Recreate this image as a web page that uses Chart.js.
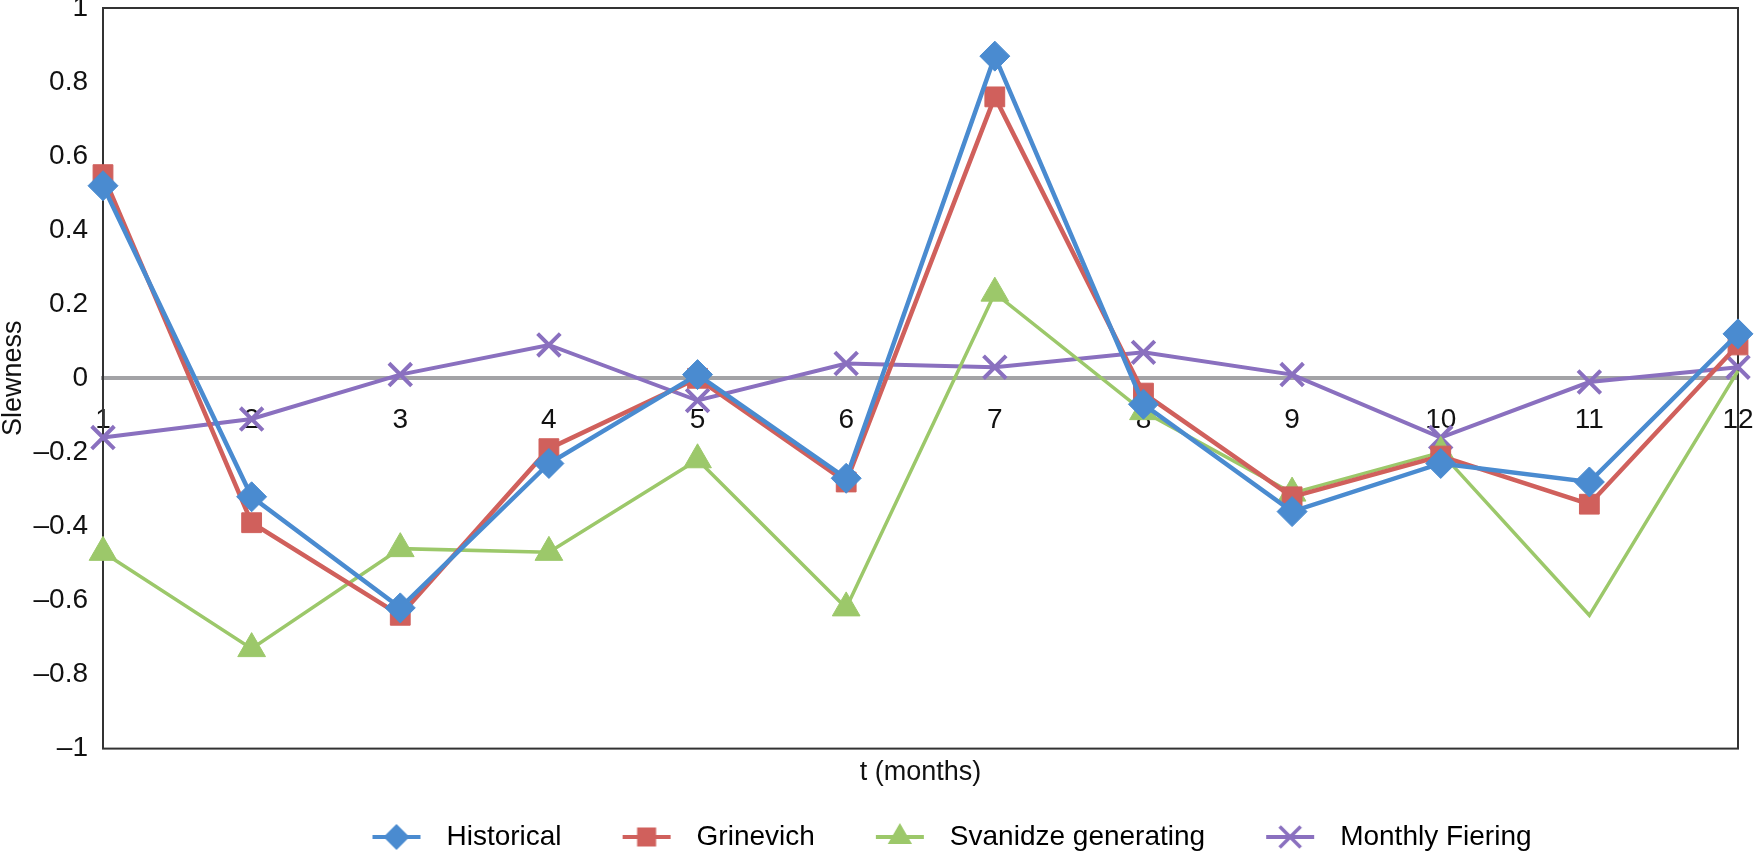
<!DOCTYPE html>
<html>
<head>
<meta charset="utf-8">
<script src="https://cdn.jsdelivr.net/npm/chart.js@4/dist/chart.umd.min.js"></script>
<style>
  body { margin: 0; background: #fff; }
  #wrap { width: 1754px; height: 857px; }
</style>
</head>
<body>
<div id="wrap"><canvas id="chart-area"></canvas></div>
<script>
// months on the x axis
var months = ['1', '2', '3', '4', '5', '6', '7', '8', '9', '10', '11', '12'];

// skewness per month
var historical = [0.52, -0.32, -0.62, -0.23, 0.01, -0.27, 0.87, -0.07, -0.36, -0.23, -0.28, 0.12];
var grinevich  = [0.55, -0.39, -0.64, -0.19, 0.00, -0.28, 0.76, -0.04, -0.32, -0.21, -0.34, 0.09];
var svanidze   = [-0.47, -0.73, -0.46, -0.47, -0.22, -0.62, 0.23, -0.09, -0.31, -0.20, -0.64, 0.02];
var fiering    = [-0.16, -0.11, 0.01, 0.09, -0.06, 0.04, 0.03, 0.07, 0.01, -0.16, -0.01, 0.03];

var seriesNames = ['Historical', 'Grinevich', 'Svanidze generating', 'Monthly Fiering'];

var colors = {
    blue: '#4a8bd0',
    red: '#d0605c',
    green: '#9cc86a',
    purple: '#8a70bf',
    zero: '#a3a3a6'
};

var FONT = '"Liberation Sans", Arial, Helvetica, sans-serif';

// legend icon: short line with the marker in the middle (blank space on the left acts as item gap)
function legendIcon(style, color) {
    var c = document.createElement('canvas');
    c.width = 87;
    c.height = 30;
    var ctx = c.getContext('2d');
    var x = 51, y = 15, r;
    ctx.strokeStyle = color;
    ctx.fillStyle = color;
    ctx.lineWidth = 4;
    ctx.beginPath();
    ctx.moveTo(27, y);
    ctx.lineTo(75, y);
    ctx.stroke();
    ctx.beginPath();
    if (style === 'rectRot') {
        r = 13;
        ctx.moveTo(x - r, y); ctx.lineTo(x, y - r); ctx.lineTo(x + r, y); ctx.lineTo(x, y + r);
        ctx.closePath(); ctx.fill();
    } else if (style === 'rect') {
        r = 9.5;
        ctx.fillRect(x - r, y - r, 2 * r, 2 * r);
    } else if (style === 'triangle') {
        r = 14;
        ctx.moveTo(x, y - r); ctx.lineTo(x + r * 0.866, y + r * 0.5); ctx.lineTo(x - r * 0.866, y + r * 0.5);
        ctx.closePath(); ctx.fill();
    } else {
        r = 10.5;
        ctx.lineWidth = 3.5;
        ctx.moveTo(x - r, y - r); ctx.lineTo(x + r, y + r);
        ctx.moveTo(x + r, y - r); ctx.lineTo(x - r, y + r);
        ctx.stroke();
    }
    return c;
}

var plotBox = {
    id: 'plotBox',
    afterLayout: function(chart) {
        // legend in the original sits a bit right of the plot centre
        if (chart.legend) {
            chart.legend.left += 18;
            chart.legend.right += 18;
        }
    },
    beforeDatasetsDraw: function(chart) {
        var a = chart.chartArea, ctx = chart.ctx;
        ctx.save();
        ctx.strokeStyle = '#333';
        ctx.lineWidth = 2;
        ctx.strokeRect(a.left, a.top, a.right - a.left, a.bottom - a.top);
        ctx.restore();
    }
};

var styles = ['rectRot', 'rect', 'triangle', 'crossRot'];
var colorList = [colors.blue, colors.red, colors.green, colors.purple];

var config = {
    type: 'line',
    data: {
        labels: months,
        datasets: [{
            label: seriesNames[0],
            data: historical,
            borderColor: colors.blue,
            backgroundColor: colors.blue,
            borderWidth: 4.5,
            pointStyle: 'rectRot',
            pointRadius: 15,
            pointBorderWidth: 1
        }, {
            label: seriesNames[1],
            data: grinevich,
            borderColor: colors.red,
            backgroundColor: colors.red,
            borderWidth: 4.5,
            pointStyle: 'rect',
            pointRadius: 14,
            pointBorderWidth: 1
        }, {
            label: seriesNames[2],
            data: svanidze,
            borderColor: colors.green,
            backgroundColor: colors.green,
            borderWidth: 3.5,
            pointStyle: 'triangle',
            // no markers on the last two months in the original
            pointRadius: [16, 16, 16, 16, 16, 16, 16, 16, 16, 16, 0, 0],
            pointBorderWidth: 1
        }, {
            label: seriesNames[3],
            data: fiering,
            borderColor: colors.purple,
            backgroundColor: colors.purple,
            borderWidth: 4,
            pointStyle: 'crossRot',
            pointRadius: 16,
            pointBorderWidth: 4
        }]
    },
    options: {
        responsive: true,
        maintainAspectRatio: false,
        animation: false,
        devicePixelRatio: 1,
        layout: {
            autoPadding: false,
            padding: { left: 0, right: 16, top: 0, bottom: -4 }
        },
        elements: { line: { tension: 0 } },
        plugins: {
            tooltip: { enabled: false },
            legend: {
                position: 'bottom',
                fullSize: false,
                labels: {
                    usePointStyle: true,
                    pointStyleWidth: 87,
                    padding: 34,
                    color: '#111',
                    font: { family: FONT, size: 28 },
                    generateLabels: function(chart) {
                        return chart.data.datasets.map(function(ds, i) {
                            return {
                                text: ds.label,
                                fillStyle: colorList[i],
                                strokeStyle: colorList[i],
                                lineWidth: 0,
                                pointStyle: legendIcon(styles[i], colorList[i]),
                                datasetIndex: i,
                                hidden: false
                            };
                        });
                    }
                }
            }
        },
        scales: {
            x: {
                type: 'category',
                position: { y: 0 },
                offset: false,
                grid: { display: false, drawTicks: false },
                border: { display: true, color: colors.zero, width: 4 },
                ticks: {
                    color: '#111',
                    padding: 25,
                    maxRotation: 0,
                    autoSkip: false,
                    font: { family: FONT, size: 28 }
                },
                afterFit: function(scale) {
                    scale.paddingLeft = 0;
                    scale.paddingRight = 0;
                }
            },
            x2: {
                type: 'category',
                position: 'bottom',
                offset: false,
                grid: { display: false, drawTicks: false },
                border: { display: false },
                ticks: { display: false },
                title: {
                    display: true,
                    text: 't (months)',
                    color: '#111',
                    padding: { top: 8, bottom: 0 },
                    font: { family: FONT, size: 27 }
                },
                afterFit: function(scale) {
                    scale.paddingLeft = 0;
                    scale.paddingRight = 0;
                }
            },
            y: {
                min: -1,
                max: 1,
                grid: { display: false, drawTicks: false },
                border: { display: false },
                ticks: {
                    stepSize: 0.2,
                    padding: 15,
                    color: '#111',
                    font: { family: FONT, size: 28 },
                    callback: function(v) {
                        var s = String(Number(Number(v).toFixed(1)));
                        return s.replace('-', '\u2013');
                    }
                },
                title: {
                    display: true,
                    text: 'Slewness',
                    color: '#111',
                    padding: { top: 0, bottom: 6 },
                    font: { family: FONT, size: 27, lineHeight: 1 }
                },
                afterFit: function(scale) {
                    scale.width = 103;
                    scale.paddingTop = 8;
                    scale.paddingBottom = 6;
                }
            }
        }
    },
    plugins: [plotBox]
};

var ctx = document.getElementById('chart-area').getContext('2d');
window.myLine = new Chart(ctx, config);
</script>
</body>
</html>
